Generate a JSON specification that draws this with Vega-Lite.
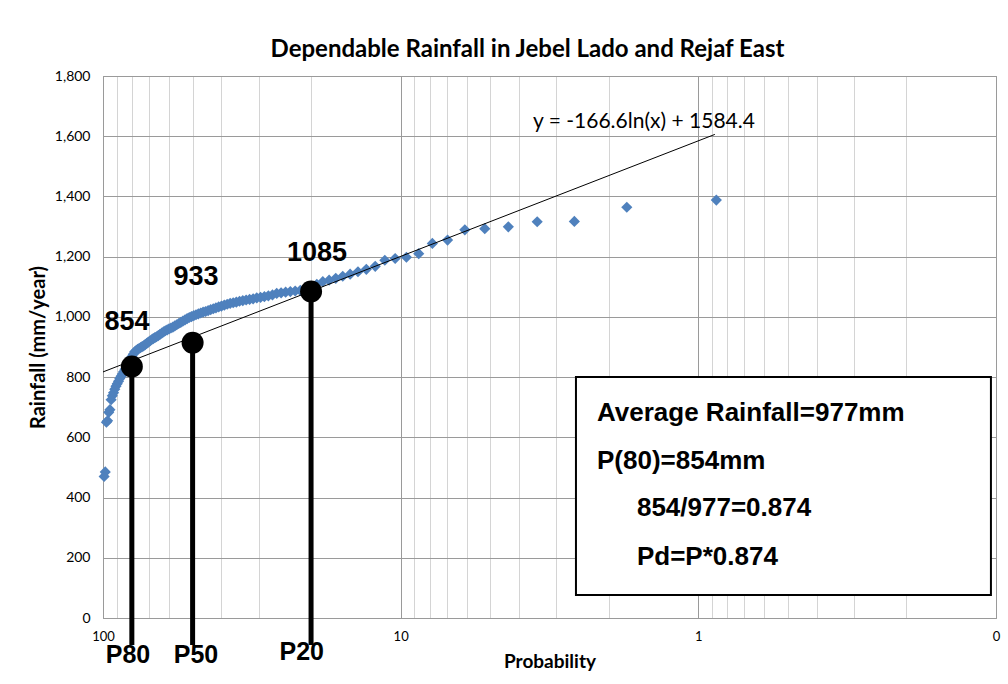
{
  "$schema": "https://vega.github.io/schema/vega-lite/v6.json",
  "width": 893,
  "height": 542,
  "autosize": {"type": "none"},
  "padding": {"left": 103, "top": 76, "right": 12, "bottom": 66},
  "background": "white",
  "config": {
    "view": {"stroke": "#868686", "strokeWidth": 1},
    "font": "Lato"
  },
  "title": {
    "text": "Dependable Rainfall in Jebel Lado and Rejaf East",
    "font": "Lato",
    "fontSize": 24,
    "fontWeight": "bold",
    "color": "#000000",
    "anchor": "middle",
    "frame": "group",
    "dx": -22,
    "offset": 7
  },
  "datasets": {
    "points": [
      {"p": 0.870, "rain": 1388}, {"p": 1.739, "rain": 1364}, {"p": 2.609, "rain": 1317}, {"p": 3.478, "rain": 1316},
      {"p": 4.348, "rain": 1299}, {"p": 5.217, "rain": 1293}, {"p": 6.087, "rain": 1289}, {"p": 6.957, "rain": 1255},
      {"p": 7.826, "rain": 1244}, {"p": 8.696, "rain": 1210}, {"p": 9.565, "rain": 1198}, {"p": 10.435, "rain": 1194},
      {"p": 11.304, "rain": 1188}, {"p": 12.174, "rain": 1168}, {"p": 13.043, "rain": 1158}, {"p": 13.913, "rain": 1150},
      {"p": 14.783, "rain": 1142}, {"p": 15.652, "rain": 1135}, {"p": 16.522, "rain": 1128}, {"p": 17.391, "rain": 1122},
      {"p": 18.261, "rain": 1117}, {"p": 19.130, "rain": 1108}, {"p": 20.000, "rain": 1096}, {"p": 20.870, "rain": 1090},
      {"p": 21.739, "rain": 1088}, {"p": 22.609, "rain": 1086}, {"p": 23.478, "rain": 1084}, {"p": 24.348, "rain": 1082},
      {"p": 25.217, "rain": 1080}, {"p": 26.087, "rain": 1078}, {"p": 26.957, "rain": 1073}, {"p": 27.826, "rain": 1070},
      {"p": 28.696, "rain": 1067}, {"p": 29.565, "rain": 1065}, {"p": 30.435, "rain": 1063}, {"p": 31.304, "rain": 1060},
      {"p": 32.174, "rain": 1058}, {"p": 33.043, "rain": 1056}, {"p": 33.913, "rain": 1054}, {"p": 34.783, "rain": 1052},
      {"p": 35.652, "rain": 1049}, {"p": 36.522, "rain": 1047}, {"p": 37.391, "rain": 1045}, {"p": 38.261, "rain": 1042},
      {"p": 39.130, "rain": 1039}, {"p": 40.000, "rain": 1036}, {"p": 40.870, "rain": 1033}, {"p": 41.739, "rain": 1030},
      {"p": 42.609, "rain": 1027}, {"p": 43.478, "rain": 1024}, {"p": 44.348, "rain": 1021}, {"p": 45.217, "rain": 1018},
      {"p": 46.087, "rain": 1016}, {"p": 46.957, "rain": 1013}, {"p": 47.826, "rain": 1010}, {"p": 48.696, "rain": 1007},
      {"p": 49.565, "rain": 1004}, {"p": 50.435, "rain": 1001}, {"p": 51.304, "rain": 998}, {"p": 52.174, "rain": 994},
      {"p": 53.043, "rain": 990}, {"p": 53.913, "rain": 986}, {"p": 54.783, "rain": 982}, {"p": 55.652, "rain": 978},
      {"p": 56.522, "rain": 974}, {"p": 57.391, "rain": 970}, {"p": 58.261, "rain": 966}, {"p": 59.130, "rain": 963},
      {"p": 60.000, "rain": 960}, {"p": 60.870, "rain": 957}, {"p": 61.739, "rain": 954}, {"p": 62.609, "rain": 950},
      {"p": 63.478, "rain": 946}, {"p": 64.348, "rain": 942}, {"p": 65.217, "rain": 938}, {"p": 66.087, "rain": 934},
      {"p": 66.957, "rain": 931}, {"p": 67.826, "rain": 928}, {"p": 68.696, "rain": 924}, {"p": 69.565, "rain": 920},
      {"p": 70.435, "rain": 916}, {"p": 71.304, "rain": 912}, {"p": 72.174, "rain": 908}, {"p": 73.043, "rain": 904},
      {"p": 73.913, "rain": 901}, {"p": 74.783, "rain": 898}, {"p": 75.652, "rain": 895}, {"p": 76.522, "rain": 892},
      {"p": 77.391, "rain": 888}, {"p": 78.261, "rain": 884}, {"p": 79.130, "rain": 876}, {"p": 80.000, "rain": 868},
      {"p": 80.870, "rain": 860}, {"p": 81.739, "rain": 852}, {"p": 82.609, "rain": 845}, {"p": 83.478, "rain": 835},
      {"p": 84.348, "rain": 826}, {"p": 85.217, "rain": 818}, {"p": 86.087, "rain": 810}, {"p": 86.957, "rain": 803},
      {"p": 87.826, "rain": 795}, {"p": 88.696, "rain": 786}, {"p": 89.565, "rain": 778}, {"p": 90.435, "rain": 770},
      {"p": 91.304, "rain": 760}, {"p": 92.174, "rain": 748}, {"p": 93.043, "rain": 738}, {"p": 93.913, "rain": 725},
      {"p": 94.783, "rain": 692}, {"p": 95.652, "rain": 683}, {"p": 96.522, "rain": 655}, {"p": 97.391, "rain": 650},
      {"p": 98.261, "rain": 485}, {"p": 99.130, "rain": 470}
    ],
    "trend": [
      {"p": 100, "rain": 817.2},
      {"p": 0.88, "rain": 1606}
    ],
    "markers": [
      {"p": 80, "rain": 835},
      {"p": 50, "rain": 914},
      {"p": 20, "rain": 1084}
    ],
    "values": [
      {"p": 83, "rain": 983, "text": "854"},
      {"p": 48.7, "rain": 1132, "text": "933"},
      {"p": 19.1, "rain": 1212, "text": "1085"}
    ],
    "plabels": [
      {"p": 82.4, "rain": -123, "text": "P80"},
      {"p": 48.7, "rain": -123, "text": "P50"},
      {"p": 21.5, "rain": -113, "text": "P20"}
    ],
    "equation": [
      {"p": 1.523, "rain": 1647, "text": "y = -166.6ln(x) + 1584.4"}
    ],
    "box": [
      {"p": 2.577, "p2": 0.104, "rain": 76, "rain2": 800}
    ],
    "boxtext": [
      {"p": 2.19, "rain": 681, "text": "Average Rainfall=977mm"},
      {"p": 2.19, "rain": 521, "text": "P(80)=854mm"},
      {"p": 1.608, "rain": 365, "text": "854/977=0.874"},
      {"p": 1.608, "rain": 203, "text": "Pd=P*0.874"}
    ]
  },
  "encoding": {
    "x": {
      "field": "p",
      "type": "quantitative",
      "scale": {"type": "log", "domain": [0.1, 100], "reverse": true, "nice": false},
      "axis": {
        "title": "Probability",
        "titleFont": "Lato",
        "titleFontSize": 19,
        "titleFontWeight": "bold",
        "titleColor": "#000000",
        "titlePadding": 9,
        "values": [100, 90, 80, 70, 60, 50, 40, 30, 20, 10, 9, 8, 7, 6, 5, 4, 3, 2, 1, 0.9, 0.8, 0.7, 0.6, 0.5, 0.4, 0.3, 0.2, 0.1],
        "labelExpr": "datum.value == 100 ? '100' : datum.value == 10 ? '10' : datum.value == 1 ? '1' : datum.value == 0.1 ? '0' : ''",
        "labelOverlap": false,
        "labelFlush": false,
        "labelFont": "Lato",
        "labelFontSize": 13,
        "labelColor": "#000000",
        "labelPadding": 12,
        "ticks": false,
        "domain": false,
        "grid": true,
        "gridColor": {
          "condition": {"test": "datum.value == 100 || datum.value == 10 || datum.value == 1 || datum.value == 0.1", "value": "#9a9a9a"},
          "value": "#d4d4d4"
        },
        "gridWidth": 1
      }
    },
    "y": {
      "field": "rain",
      "type": "quantitative",
      "scale": {"domain": [0, 1800], "nice": false, "zero": false},
      "axis": {
        "title": "Rainfall (mm/year)",
        "titleFont": "Lato",
        "titleFontSize": 20,
        "titleFontWeight": "bold",
        "titleColor": "#000000",
        "titlePadding": 6,
        "values": [0, 200, 400, 600, 800, 1000, 1200, 1400, 1600, 1800],
        "format": ",.0f",
        "labelFont": "Lato",
        "labelFontSize": 14,
        "labelColor": "#000000",
        "labelPadding": 13,
        "ticks": false,
        "domain": false,
        "grid": true,
        "gridColor": "#9a9a9a",
        "gridWidth": 1
      }
    }
  },
  "layer": [
    {
      "data": {"name": "points"},
      "mark": {"type": "point", "shape": "diamond", "filled": true, "color": "#4F81BD", "size": 125, "opacity": 1}
    },
    {
      "data": {"name": "trend"},
      "mark": {"type": "line", "color": "#000000", "strokeWidth": 1}
    },
    {
      "data": {"name": "markers"},
      "mark": {"type": "rule", "color": "#000000", "strokeWidth": 5},
      "encoding": {"y2": {"datum": -90}}
    },
    {
      "data": {"name": "markers"},
      "mark": {"type": "point", "shape": "circle", "filled": true, "color": "#000000", "size": 484, "opacity": 1}
    },
    {
      "data": {"name": "values"},
      "mark": {"type": "text", "font": "Liberation Sans", "fontSize": 27, "fontWeight": "bold", "color": "#000000", "align": "center", "baseline": "middle"},
      "encoding": {"text": {"field": "text"}}
    },
    {
      "data": {"name": "plabels"},
      "mark": {"type": "text", "font": "Liberation Sans", "fontSize": 25, "fontWeight": "bold", "color": "#000000", "align": "center", "baseline": "middle"},
      "encoding": {"text": {"field": "text"}}
    },
    {
      "data": {"name": "equation"},
      "mark": {"type": "text", "font": "Lato", "fontSize": 21, "color": "#000000", "align": "center", "baseline": "middle"},
      "encoding": {"text": {"field": "text"}}
    },
    {
      "data": {"name": "box"},
      "mark": {"type": "rect", "fill": "#ffffff", "stroke": "#000000", "strokeWidth": 2},
      "encoding": {"x2": {"field": "p2"}, "y2": {"field": "rain2"}}
    },
    {
      "data": {"name": "boxtext"},
      "mark": {"type": "text", "font": "Liberation Sans", "fontSize": 26, "fontWeight": "bold", "color": "#000000", "align": "left", "baseline": "middle"},
      "encoding": {"text": {"field": "text"}}
    }
  ]
}
